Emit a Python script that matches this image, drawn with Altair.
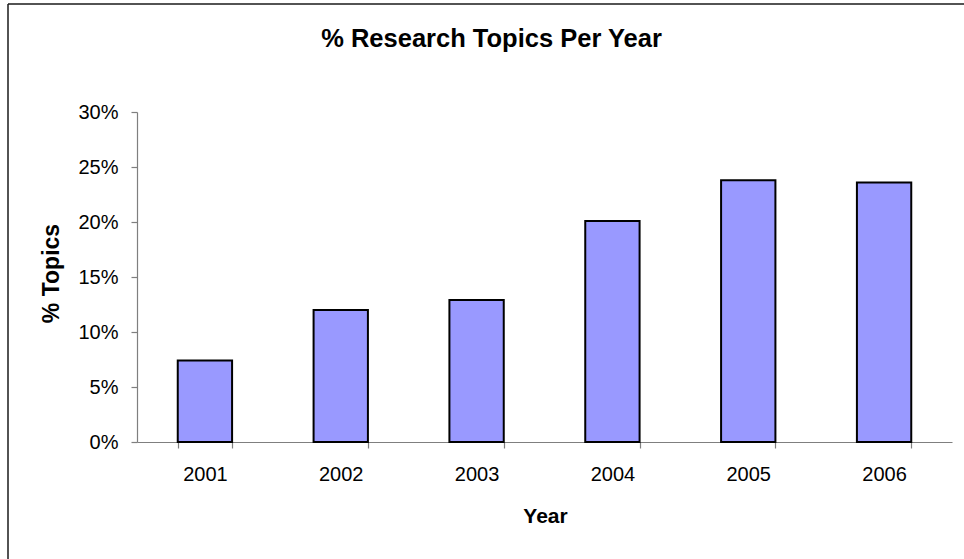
import altair as alt
import pandas as pd

# Share of research topics per year (percent)
years = ["2001", "2002", "2003", "2004", "2005", "2006"]
share_pct = [7.4, 12.0, 12.9, 20.1, 23.8, 23.6]
y_ticks = [0, 5, 10, 15, 20, 25, 30]

df = pd.DataFrame({"Year": years, "Topics": share_pct})

FONT = "Liberation Sans"
AXIS_GREY = "#7f7f7f"

bars = (
    alt.Chart(df)
    .mark_bar(color="#9999FF", stroke="black", strokeWidth=2)
    .encode(
        x=alt.X(
            "Year:N",
            sort=years,
            scale=alt.Scale(paddingInner=0.6, paddingOuter=0.3),
            axis=alt.Axis(
                title="Year",
                labelAngle=0,
                labelFontSize=20,
                labelPadding=16,
                tickBand="extent",
                tickSize=6,
                titleFontSize=21,
                titleFontWeight="bold",
                titleX=408,
                titleY=80,
                titleBaseline="alphabetic",
                titleAlign="center",
            ),
        ),
        y=alt.Y(
            "Topics:Q",
            scale=alt.Scale(domain=[0, 30], nice=False),
            axis=alt.Axis(
                title="% Topics",
                values=y_ticks,
                labelExpr="datum.value + '%'",
                labelFontSize=20,
                labelPadding=13,
                tickSize=6,
                grid=False,
                titleFontSize=23,
                titleFontWeight="bold",
                titleAngle=270,
                titleX=-79,
                titleY=161,
                titleBaseline="alphabetic",
                titleAlign="center",
            ),
        ),
    )
)

# Outer frame lines (left and top edges of the chart box)
frame_data = alt.Data(values=[{}])
frame_left = alt.Chart(frame_data).mark_rule(color="#1a1a1a", strokeWidth=1.5).encode(
    x=alt.value(-129), y=alt.value(-108), y2=alt.value(460)
)
frame_top = alt.Chart(frame_data).mark_rule(color="#1a1a1a", strokeWidth=1.5).encode(
    y=alt.value(-108), x=alt.value(-129), x2=alt.value(840)
)

chart = (
    alt.layer(bars, frame_left, frame_top)
    .properties(
        width=815,
        height=330,
        autosize=alt.AutoSizeParams(type="none"),
        padding={"left": 137, "top": 112, "right": 12, "bottom": 117},
        background="white",
        title=alt.TitleParams(
            "% Research Topics Per Year",
            fontSize=25.5,
            fontWeight="bold",
            font=FONT,
            color="black",
            baseline="alphabetic",
            offset=0,
            dy=69,
            dx=-53,
        ),
    )
    .configure_view(stroke=None)
    .configure_axis(
        labelFont=FONT,
        titleFont=FONT,
        labelColor="black",
        titleColor="black",
        domainColor=AXIS_GREY,
        tickColor=AXIS_GREY,
        domainWidth=1.2,
        tickWidth=1.2,
    )
)

chart.save("out.html", embed_options={"renderer": "svg", "actions": False})
